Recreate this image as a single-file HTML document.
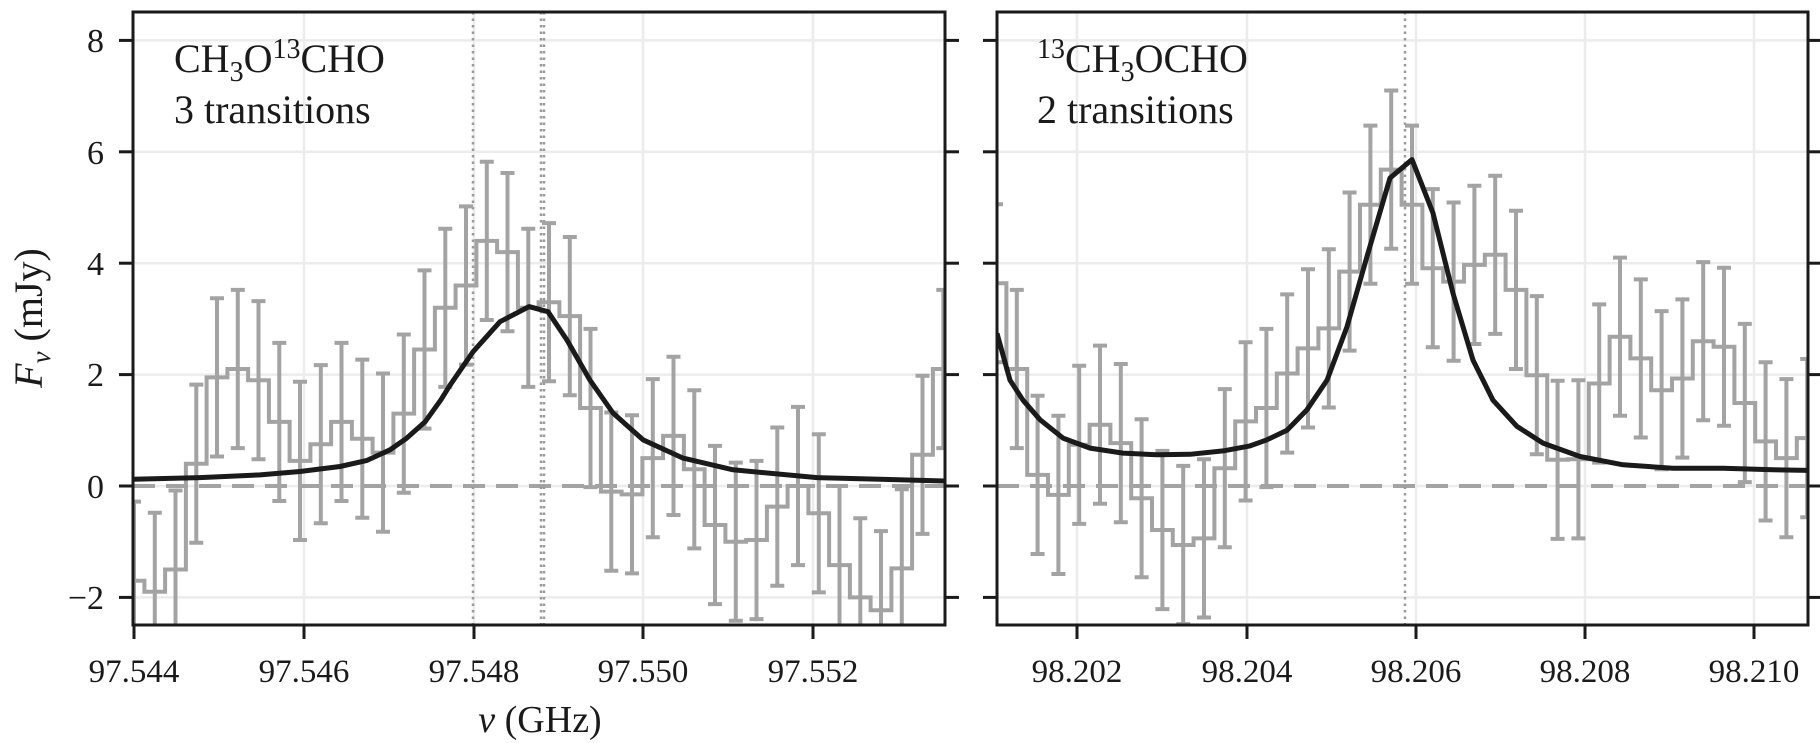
<!DOCTYPE html>
<html><head><meta charset="utf-8">
<style>
html,body{margin:0;padding:0;background:#fff;}
svg{display:block;}
text{font-family:"Liberation Serif","DejaVu Serif",serif;fill:#1a1a1a;}
</style></head>
<body>
<svg id="s" width="1820" height="743" viewBox="0 0 1820 743" xmlns="http://www.w3.org/2000/svg">
<defs>
<clipPath id="cL"><rect x="133" y="12" width="812" height="613"/></clipPath>
<clipPath id="cR"><rect x="997" y="12" width="811" height="613"/></clipPath>
</defs>
<g id="gL" clip-path="url(#cL)"></g>
<g id="gR" clip-path="url(#cR)"></g>
<g id="axes"></g>
<g font-size="34" text-anchor="end">
<text x="104" y="52">8</text>
<text x="104" y="164">6</text>
<text x="104" y="275">4</text>
<text x="104" y="386">2</text>
<text x="104" y="498">0</text>
<text x="104" y="609">−2</text>
</g>
<g font-size="33" text-anchor="middle">
<text x="134" y="682">97.544</text>
<text x="304" y="682">97.546</text>
<text x="474" y="682">97.548</text>
<text x="643" y="682">97.550</text>
<text x="813" y="682">97.552</text>
<text x="1077" y="682">98.202</text>
<text x="1247" y="682">98.204</text>
<text x="1416" y="682">98.206</text>
<text x="1585" y="682">98.208</text>
<text x="1754" y="682">98.210</text>
</g>
<text x="540" y="732" font-size="38" text-anchor="middle"><tspan font-style="italic">ν</tspan> (GHz)</text>
<text transform="translate(42,318) rotate(-90)" font-size="40" text-anchor="middle"><tspan font-style="italic">F</tspan><tspan font-style="italic" font-size="27" dy="8">ν</tspan><tspan dy="-8">  (mJy)</tspan></text>
<text x="174" y="72" font-size="40">CH<tspan font-size="28" dy="9">3</tspan><tspan dy="-9">O</tspan><tspan font-size="28" dy="-14">13</tspan><tspan dy="14">CHO</tspan></text>
<text x="174" y="123" font-size="40">3 transitions</text>
<text x="1037" y="72" font-size="40"><tspan font-size="28" dy="-14">13</tspan><tspan dy="14">CH</tspan><tspan font-size="28" dy="9">3</tspan><tspan dy="-9">OCHO</tspan></text>
<text x="1037" y="123" font-size="40">2 transitions</text>
</svg>
<script>
(function(){
var NS="http://www.w3.org/2000/svg";
function el(p,n,a){var e=document.createElementNS(NS,n);for(var k in a)e.setAttribute(k,a[k]);p.appendChild(e);return e;}
function yv(v){return 486-55.7*v;}
var gL=document.getElementById('gL'),gR=document.getElementById('gR'),ax=document.getElementById('axes');
var yt=[8,6,4,2,0,-2];
function panel(g,x0,x1,gridx,dotted,vals,c0,w,curve){
  yt.forEach(function(v){el(g,'line',{x1:x0,x2:x1,y1:yv(v),y2:yv(v),stroke:'#ececec','stroke-width':2.5});});
  gridx.forEach(function(x){el(g,'line',{x1:x,x2:x,y1:12,y2:625,stroke:'#ececec','stroke-width':2.5});});
  el(g,'line',{x1:x0,x2:x1,y1:yv(0),y2:yv(0),stroke:'#a3a3a3','stroke-width':4,'stroke-dasharray':'22 11'});
  dotted.forEach(function(x){el(g,'line',{x1:x,x2:x,y1:12,y2:625,stroke:'#9a9a9a','stroke-width':2.5,'stroke-dasharray':'2.5 4'});});
  var d='';
  for(var i=0;i<vals.length;i++){
    var c=c0+w*i,y=yv(vals[i]);
    d+=(i==0?'M':'L')+(c-w/2).toFixed(1)+','+y.toFixed(1)+'L'+(c+w/2).toFixed(1)+','+y.toFixed(1);
  }
  el(g,'path',{d:d,fill:'none',stroke:'#a3a3a3','stroke-width':4});
  var e='';
  for(var i=0;i<vals.length;i++){
    var c=c0+w*i,s=1.42,t=yv(vals[i]+s),b=yv(vals[i]-s);
    e+='M'+c.toFixed(1)+','+t.toFixed(1)+'L'+c.toFixed(1)+','+b.toFixed(1);
    e+='M'+(c-7).toFixed(1)+','+t.toFixed(1)+'L'+(c+7).toFixed(1)+','+t.toFixed(1);
    e+='M'+(c-7).toFixed(1)+','+b.toFixed(1)+'L'+(c+7).toFixed(1)+','+b.toFixed(1);
  }
  el(g,'path',{d:e,fill:'none',stroke:'#a3a3a3','stroke-width':4});
  var m='';
  curve.forEach(function(p,i){m+=(i?'L':'M')+p[0]+','+yv(p[1]).toFixed(1);});
  el(g,'path',{d:m,fill:'none',stroke:'#1a1a1a','stroke-width':5,'stroke-linejoin':'round'});
  el(ax,'rect',{x:x0,y:12,width:x1-x0,height:613,fill:'none',stroke:'#1a1a1a','stroke-width':3});
  yt.forEach(function(v){
    el(ax,'line',{x1:x0-14,x2:x0,y1:yv(v),y2:yv(v),stroke:'#1a1a1a','stroke-width':3});
    el(ax,'line',{x1:x1,x2:x1+14,y1:yv(v),y2:yv(v),stroke:'#1a1a1a','stroke-width':3});
  });
}
var L=[-1.7,-1.9,-1.5,0.4,1.95,2.1,1.9,1.15,0.45,0.75,1.15,0.85,0.6,1.3,2.45,3.2,3.6,4.4,4.2,3.2,3.3,3.05,1.4,-0.1,-0.15,0.5,0.9,0.3,-0.7,-1.0,-0.97,-0.37,0.0,-0.49,-1.42,-2.0,-2.23,-1.48,0.56,2.1];
var R=[3.64,2.1,0.2,-0.16,0.74,1.1,0.77,-0.22,-0.79,-1.06,-0.94,0.32,1.16,1.4,2.02,2.47,2.83,3.85,5.05,5.68,5.05,3.91,3.67,3.97,4.15,3.52,1.99,0.47,0.48,1.84,2.68,2.29,1.72,1.93,2.6,2.5,1.49,0.8,0.5,0.86];
var cL=[[133,0.12],[200,0.15],[260,0.2],[300,0.26],[340,0.35],[367,0.46],[390,0.65],[406,0.85],[425,1.15],[441,1.55],[450,1.81],[473,2.41],[500,2.95],[529,3.22],[548,3.13],[567,2.62],[590,1.9],[613,1.31],[643,0.83],[683,0.5],[733,0.29],[817,0.15],[945,0.09]];
var cR=[[997,2.74],[1010,1.9],[1023,1.54],[1040,1.19],[1063,0.86],[1090,0.68],[1123,0.59],[1157,0.56],[1190,0.57],[1223,0.63],[1250,0.72],[1267,0.83],[1287,1.0],[1307,1.37],[1327,1.9],[1347,2.86],[1367,4.12],[1390,5.53],[1412,5.86],[1433,4.9],[1453,3.46],[1473,2.26],[1493,1.54],[1517,1.07],[1543,0.77],[1580,0.53],[1623,0.38],[1673,0.32],[1723,0.32],[1773,0.29],[1808,0.28]];
panel(gL,133,945,[304,474,643,813],[473,541,544],L,134,20.75,cL);
panel(gR,997,1808,[1077,1247,1416,1585,1754],[1405],R,996,20.8,cR);
[134,304,474,643,813,1077,1247,1416,1585,1754].forEach(function(x){
  el(ax,'line',{x1:x,x2:x,y1:625,y2:639,stroke:'#1a1a1a','stroke-width':3});
});
})();
</script>
</body></html>
